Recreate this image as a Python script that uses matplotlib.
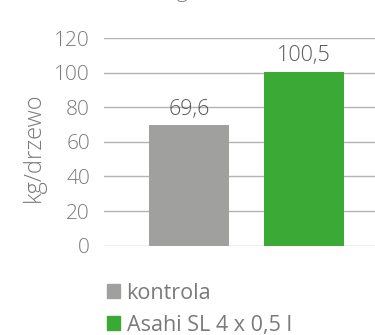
import matplotlib.pyplot as plt
from matplotlib.patches import Patch

plt.rcParams['font.family'] = ['Open Sans', 'DejaVu Sans']

groups = ["kontrola", "Asahi SL 4 x 0,5 l"]
values = [69.6, 100.5]
value_labels = ["69,6", "100,5"]
colors = ["#a0a09f", "#3aa935"]
yticks = [0, 20, 40, 60, 80, 100, 120]

fig = plt.figure(figsize=(3.75, 3.35), dpi=100)
ax = fig.add_axes([104 / 375, 1 - 245.7 / 335, 271 / 375, 207.7 / 335])

x = list(range(len(values)))
bars = ax.bar(x, values, width=0.696, color=colors, zorder=2)
ax.bar_label(bars, labels=value_labels, padding=4, fontsize=15.5,
             color="#595959", fontweight="light")

ax.set_xlim(-0.739, 1.617)
ax.set_ylim(0, 120)
ax.set_yticks(yticks)
ax.set_yticklabels([str(t) for t in yticks], fontsize=15, color="#7a7a7a",
                   fontweight="light")
ax.tick_params(axis="y", length=0, pad=10)
ax.set_xticks([])
ax.grid(axis="y", color="#b3b3b3", linewidth=1, zorder=0)
for s in ax.spines.values():
    s.set_visible(False)

ax.set_ylabel("kg/drzewo", fontsize=17, color="#7a7a7a", fontweight="light")
ax.yaxis.set_label_coords(-0.214, 0.475)

# title sits mostly above the visible area
fig.text(215 / 375, 1 + 3 / 335, "(kg/drzewo)", ha="center", va="baseline",
         fontsize=15, color="#7a7a7a", fontweight="light")

handles = [Patch(color=c) for c in colors]
fig.legend(handles, groups, loc="upper left", bbox_to_anchor=(96 / 375, 1 - 272 / 335),
           frameon=False, fontsize=15.5, labelcolor="#7a7a7a",
           handlelength=0.62, handleheight=0.62, handletextpad=0.3,
           labelspacing=0.52, borderpad=0)

fig.savefig("out.png", dpi=100)
